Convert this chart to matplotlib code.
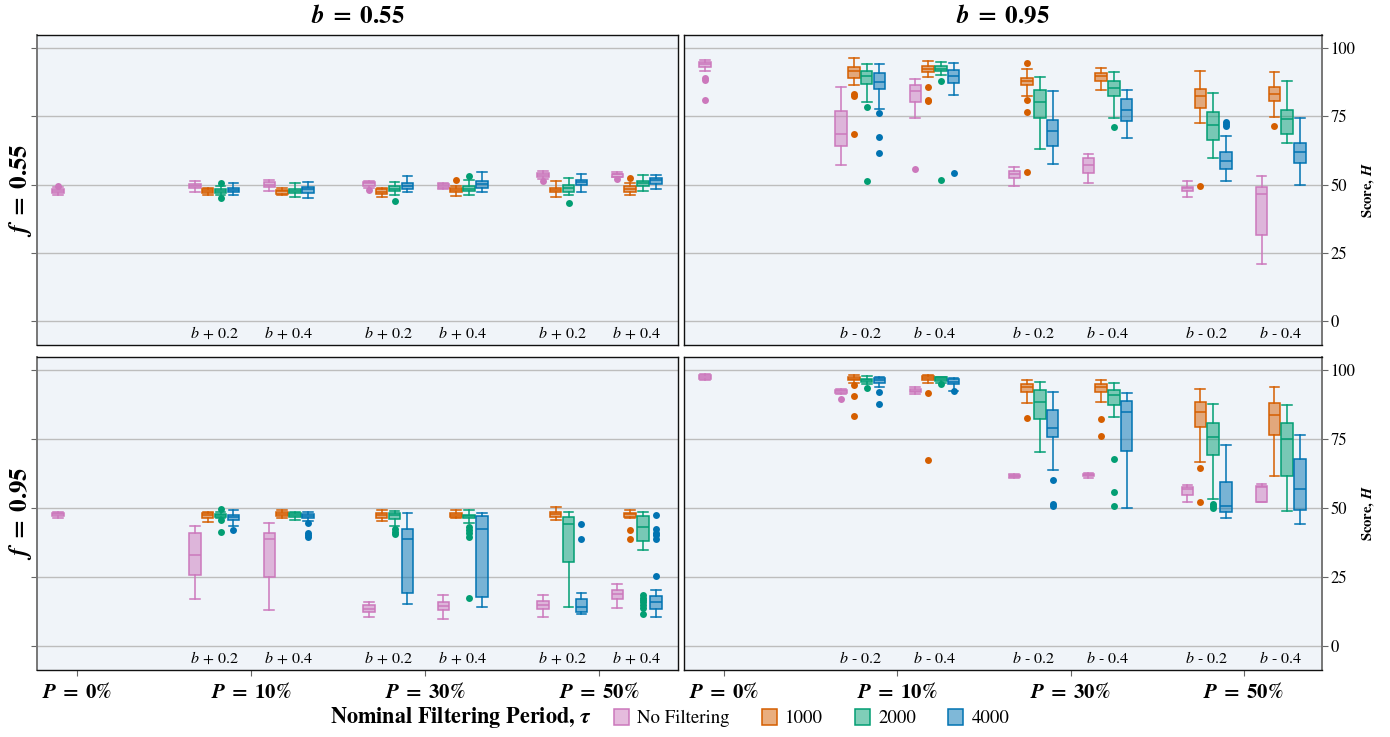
import matplotlib
matplotlib.use('Agg')
import matplotlib.pyplot as plt
from matplotlib.patches import Patch
from matplotlib.colors import to_rgba
import matplotlib.transforms as mtransforms

plt.rcParams['font.family'] = ['STIXGeneral', 'DejaVu Sans']
plt.rcParams['mathtext.fontset'] = 'stix'

# ---------------- data ----------------
hue_labels = ["No Filtering", "1000", "2000", "4000"]
hue_colors = ["#cc78bc", "#d55e00", "#029e73", "#0173b2"]
p_labels = [r"$\mathbfit{P}\;\mathbf{=}\;\mathbf{0\%}$", r"$\mathbfit{P}\;\mathbf{=}\;\mathbf{10\%}$",
            r"$\mathbfit{P}\;\mathbf{=}\;\mathbf{30\%}$", r"$\mathbfit{P}\;\mathbf{=}\;\mathbf{50\%}$"]
sub_labels_plus = [r"$b\,+\,0.2$", r"$b\,+\,0.4$"]
sub_labels_minus = [r"$b$ - 0.2", r"$b$ - 0.4"]
col_titles = [r"$\mathbfit{b}\;\mathbf{=}\;\mathbf{0.55}$", r"$\mathbfit{b}\;\mathbf{=}\;\mathbf{0.95}$"]
row_titles = [r"$\mathbfit{f}\;\mathbf{=}\;\mathbf{0.55}$", r"$\mathbfit{f}\;\mathbf{=}\;\mathbf{0.95}$"]

# box stats: (whislo, q1, med, q3, whishi)
# No Filtering order: P0, P10(+/-0.2), P10(+/-0.4), P30(0.2), P30(0.4), P50(0.2), P50(0.4)
# Filtered order:     P10(0.2), P10(0.4), P30(0.2), P30(0.4), P50(0.2), P50(0.4)

# ---- f=0.55, b=0.55 (top-left)
TL_nofilt = [(46.3, 47.0, 47.6, 48.2, 49.0), (47.3, 48.7, 49.5, 50.2, 51.2), (47.8, 49.0, 50.0, 50.9, 51.7),
             (48.9, 49.5, 50.4, 50.9, 51.3), (48.2, 48.8, 49.5, 50.2, 50.7), (52.2, 52.7, 53.5, 54.1, 54.9),
             (52.6, 52.9, 53.7, 54.0, 54.5)]
TL_nofilt_fl = [[49.5], [], [], [48.0], [], [51.3], [52.0]]
TL_1000 = [(46.0, 46.8, 47.6, 48.3, 48.8), (46.0, 46.6, 47.6, 48.0, 48.8), (45.5, 46.7, 47.4, 48.3, 48.8),
           (45.7, 47.2, 48.0, 48.7, 49.5), (45.4, 47.1, 47.9, 48.8, 51.2), (46.0, 47.4, 48.4, 49.3, 50.5)]
TL_1000_fl = [[], [], [], [51.8], [], [52.3]]
TL_2000 = [(46.1, 47.0, 47.8, 48.5, 49.3), (45.6, 47.0, 47.8, 48.5, 50.6), (46.2, 47.6, 48.5, 49.3, 51.0),
           (46.0, 47.7, 48.5, 49.5, 51.7), (46.0, 47.3, 48.7, 50.0, 52.4), (47.6, 49.4, 50.4, 51.2, 53.5)]
TL_2000_fl = [[50.5, 45.2], [], [43.8], [53.0], [43.2], []]
TL_4000 = [(46.2, 47.1, 48.0, 48.8, 50.5), (45.1, 47.0, 48.2, 49.1, 51.0), (47.2, 48.3, 49.4, 50.7, 53.0),
           (47.2, 48.9, 50.1, 51.3, 54.6), (47.4, 50.0, 51.1, 51.7, 53.9), (48.4, 50.2, 51.5, 52.3, 53.5)]
TL_4000_fl = [[], [], [], [], [], []]

# ---- f=0.55, b=0.95 (top-right)
TR_nofilt = [(91.6, 93.1, 94.0, 95.0, 95.6), (57.3, 64.3, 68.5, 77.1, 85.9), (74.3, 80.4, 84.1, 86.4, 88.7),
             (49.6, 52.3, 54.0, 55.0, 56.4), (50.4, 54.3, 57.0, 59.6, 61.3), (45.5, 47.5, 48.6, 49.2, 51.4),
             (20.7, 31.6, 46.4, 49.2, 53.2)]
TR_nofilt_fl = [[89.0, 88.4, 81.0], [], [55.8], [], [], [], []]
TR_1000 = [(86.4, 89.0, 91.5, 92.9, 96.2), (89.5, 91.4, 92.5, 93.4, 95.1), (82.4, 86.3, 87.8, 89.0, 92.4),
           (84.6, 87.9, 89.7, 90.8, 92.8), (72.5, 78.0, 82.5, 85.0, 91.7), (74.8, 80.5, 83.1, 85.9, 91.3)]
TR_1000_fl = [[83.2, 82.6, 68.7], [85.6, 81.0, 80.6], [94.4, 81.0, 76.6, 54.5], [], [49.3], [71.4]]
TR_2000 = [(80.4, 87.0, 89.7, 91.5, 94.0), (90.3, 91.6, 92.5, 93.4, 95.0), (63.0, 74.3, 80.2, 84.7, 89.4),
           (74.4, 82.4, 85.3, 88.1, 91.4), (59.9, 66.5, 71.9, 76.5, 83.5), (65.1, 68.4, 73.9, 77.2, 87.8)]
TR_2000_fl = [[78.5, 51.2], [88.1, 51.5], [], [71.0], [], []]
TR_4000 = [(77.5, 84.9, 87.5, 90.7, 94.1), (82.9, 87.3, 89.8, 91.9, 94.5), (57.4, 64.0, 69.8, 73.6, 84.1),
           (67.1, 73.4, 77.2, 81.2, 84.8), (51.4, 55.8, 58.5, 62.1, 67.8), (50.0, 58.0, 61.8, 65.1, 74.3)]
TR_4000_fl = [[76.3, 67.6, 61.4], [54.3], [], [], [72.8, 72.1, 71.4], []]

# ---- f=0.95, b=0.55 (bottom-left)
BL_nofilt = [(46.3, 47.0, 47.7, 48.2, 48.7), (17.1, 25.7, 33.0, 40.8, 43.3), (12.9, 25.1, 38.9, 40.8, 44.7),
             (10.6, 12.2, 13.5, 14.7, 15.8), (9.8, 13.0, 14.3, 15.8, 18.4), (10.6, 13.2, 14.7, 16.2, 18.4),
             (13.6, 16.8, 18.7, 20.1, 22.3)]
BL_nofilt_fl = [[], [], [], [], [], [], []]
BL_1000 = [(45.0, 46.3, 47.5, 48.1, 48.4), (46.5, 47.2, 47.9, 48.5, 49.2), (45.3, 46.4, 47.5, 48.2, 49.2),
           (46.3, 46.9, 47.6, 48.2, 49.2), (45.7, 46.8, 47.7, 48.6, 50.3), (46.3, 46.9, 47.7, 48.3, 49.1)]
BL_1000_fl = [[], [], [], [], [], [42.0, 38.6]]
BL_2000 = [(46.3, 46.8, 47.4, 47.9, 48.7), (45.5, 46.6, 47.6, 48.2, 48.7), (43.3, 46.0, 47.6, 48.1, 49.0),
           (44.7, 46.3, 47.1, 47.6, 49.2), (14.0, 30.4, 44.1, 46.9, 48.7), (34.8, 38.2, 43.0, 47.1, 48.7)]
BL_2000_fl = [[49.5, 45.6, 41.2], [], [42.3, 41.4, 40.6], [43.2, 42.1, 41.1, 39.4, 17.5], [],
              [18.4, 17.5, 16.6, 15.7, 14.7, 13.6, 11.5]]
BL_4000 = [(43.3, 45.5, 46.9, 47.6, 49.1), (45.4, 46.3, 47.2, 48.0, 48.7), (15.1, 19.2, 38.8, 42.5, 48.3),
           (14.1, 17.6, 42.2, 47.0, 48.1), (11.4, 12.4, 14.2, 16.8, 19.0), (10.3, 13.5, 15.7, 18.0, 20.1)]
BL_4000_fl = [[41.9], [44.4, 40.9, 40.1, 39.4], [], [], [44.3, 38.7], [47.5, 42.2, 41.1, 40.1, 38.9, 25.3]]

# ---- f=0.95, b=0.95 (bottom-right)
BR_nofilt = [(96.6, 96.9, 97.7, 98.2, 98.7), (91.3, 91.7, 92.4, 92.9, 93.1), (91.5, 92.0, 92.5, 93.3, 93.8),
             (60.9, 61.3, 61.7, 62.0, 62.3), (61.0, 61.6, 62.1, 62.4, 62.8), (52.3, 54.7, 57.0, 57.7, 58.4),
             (52.2, 52.3, 57.6, 58.0, 58.8)]
BR_nofilt_fl = [[], [89.7], [], [], [], [], []]
BR_1000 = [(95.5, 96.3, 96.8, 97.4, 98.3), (95.2, 96.4, 97.2, 97.9, 98.3), (88.1, 92.2, 93.8, 95.0, 96.5),
           (88.4, 92.2, 94.0, 95.0, 96.5), (66.6, 79.4, 84.8, 88.5, 93.1), (61.7, 76.4, 83.7, 88.2, 94.0)]
BR_1000_fl = [[94.7, 90.6, 83.5], [91.9, 67.3], [82.6], [82.4, 76.1], [64.6, 52.1], []]
BR_2000 = [(95.1, 95.7, 96.5, 96.9, 97.9), (95.5, 96.2, 96.9, 97.4, 97.7), (70.4, 82.3, 88.5, 93.0, 95.7),
           (83.2, 87.5, 91.0, 92.9, 95.2), (53.4, 69.4, 75.9, 80.8, 87.8), (49.0, 61.7, 75.2, 80.8, 87.4)]
BR_2000_fl = [[93.6], [94.9], [], [67.9, 55.9, 50.9], [51.3, 50.8, 50.1], []]
BR_4000 = [(93.8, 95.5, 96.5, 97.3, 97.7), (92.4, 95.0, 95.9, 96.7, 97.3), (63.8, 75.6, 78.9, 85.4, 92.0),
           (50.0, 70.6, 84.7, 88.7, 91.7), (46.3, 48.6, 50.6, 59.4, 72.9), (44.3, 49.1, 56.9, 67.7, 76.4)]
BR_4000_fl = [[92.2, 87.9], [92.4], [60.3, 51.5, 50.8], [], [], []]

panels = {
    (0, 0): ([TL_nofilt, TL_1000, TL_2000, TL_4000], [TL_nofilt_fl, TL_1000_fl, TL_2000_fl, TL_4000_fl]),
    (0, 1): ([TR_nofilt, TR_1000, TR_2000, TR_4000], [TR_nofilt_fl, TR_1000_fl, TR_2000_fl, TR_4000_fl]),
    (1, 0): ([BL_nofilt, BL_1000, BL_2000, BL_4000], [BL_nofilt_fl, BL_1000_fl, BL_2000_fl, BL_4000_fl]),
    (1, 1): ([BR_nofilt, BR_1000, BR_2000, BR_4000], [BR_nofilt_fl, BR_1000_fl, BR_2000_fl, BR_4000_fl]),
}

# ---------------- layout ----------------
SUB_OFF = 0.214      # half distance between the two sub-groups of a P group
HUE_STEP = 0.0738    # distance between hue boxes
BOX_W = 0.066
CAP_W = 0.056
BG = "#f0f4f9"


def positions_for(hue):
    pos = []
    if hue == 0:
        pos.append(0 + (0 - 1.5) * HUE_STEP)
    for g in (1, 2, 3):
        for s in (-1, 1):
            pos.append(g + s * SUB_OFF + (hue - 1.5) * HUE_STEP)
    return pos


fig = plt.figure(figsize=(13.9, 7.37), dpi=100)
W, H = 1390, 737
col_x = [(37, 678), (684, 1322)]
row_y = [(35, 345), (357, 670)]

axes = {}
for r in range(2):
    for c in range(2):
        x0, x1 = col_x[c]
        y0, y1 = row_y[r]
        ax = fig.add_axes([x0 / W, 1 - y1 / H, (x1 - x0) / W, (y1 - y0) / H])
        axes[(r, c)] = ax
        ax.set_facecolor(BG)
        ax.set_xlim(-0.232, 3.452)
        ax.set_ylim(-8.8, 104.8)
        ax.set_yticks([0, 25, 50, 75, 100])
        ax.yaxis.grid(True, color="#bdbdbd", lw=1.0)
        ax.set_axisbelow(True)
        for sp in ax.spines.values():
            sp.set_color("#111111")
            sp.set_linewidth(1.0)
        if c == 0:
            ax.spines['left'].set_color("#777777")
            ax.spines['left'].set_linewidth(1.4)
        else:
            ax.spines['right'].set_color("#777777")
            ax.spines['right'].set_linewidth(1.4)

        stats_list, fl_list = panels[(r, c)]
        for h in range(4):
            col = hue_colors[h]
            bstats = []
            for st, fl in zip(stats_list[h], fl_list[h]):
                bstats.append(dict(whislo=st[0], q1=st[1], med=st[2], q3=st[3], whishi=st[4], fliers=fl))
            pos = positions_for(h)
            ax.bxp(bstats, positions=pos, widths=BOX_W, capwidths=CAP_W, patch_artist=True,
                   showfliers=True, manage_ticks=False,
                   boxprops=dict(facecolor=to_rgba(col, 0.5), edgecolor=col, linewidth=1.1),
                   medianprops=dict(color=col, linewidth=1.1),
                   whiskerprops=dict(color=col, linewidth=1.1),
                   capprops=dict(color=col, linewidth=1.1),
                   flierprops=dict(marker='o', markerfacecolor=col, markeredgecolor='none',
                                   markersize=5, linestyle='none'))

        # sub-group labels inside axes
        trans = mtransforms.blended_transform_factory(ax.transData, ax.transAxes)
        subs = sub_labels_plus if c == 0 else sub_labels_minus
        for g in (1, 2, 3):
            for k, s in enumerate((-1, 1)):
                ax.text(g + s * SUB_OFF, 0.012, subs[k], transform=trans, ha='center', va='bottom',
                        fontsize=11.5)

        # y axis
        if c == 0:
            ax.tick_params(axis='y', left=True, right=False, labelleft=False, labelright=False,
                           length=4, direction='out', color="#666666")
        else:
            ax.yaxis.tick_right()
            ax.tick_params(axis='y', left=False, right=True, labelleft=False, labelright=True,
                           length=4, direction='out', labelsize=12, pad=2, color="#666666")
            ax.yaxis.set_label_position('right')
            ax.set_ylabel(r"Score, $\mathbfit{H}$", fontsize=10.5, fontweight='bold', labelpad=4)

        # x axis
        ax.set_xticks([0, 1, 2, 3])
        if r == 1:
            ax.set_xticklabels(p_labels, fontsize=15)
            ax.tick_params(axis='x', length=4, direction='out', pad=5, color="#666666")
        else:
            ax.set_xticklabels([])
            ax.tick_params(axis='x', length=0)

# column / row titles
for c in range(2):
    x0, x1 = col_x[c]
    fig.text((x0 + x1) / 2 / W, 1 - 17 / H, col_titles[c], ha='center', va='center', fontsize=18)
for r in range(2):
    y0, y1 = row_y[r]
    fig.text(20 / W, 1 - (y0 + y1) / 2 / H, row_titles[r], ha='center', va='center', rotation=90,
             fontsize=18)

# legend
fig.text(592 / W, 1 - 718 / H, r"Nominal Filtering Period, $\mathbfit{\tau}$", ha='right', va='center',
         fontsize=16, fontweight='bold')
handles = [Patch(facecolor=to_rgba(col, 0.5), edgecolor=col, linewidth=1.1) for col in hue_colors]
fig.legend(handles, hue_labels, loc='center left', bbox_to_anchor=(614 / W, 1 - 718 / H), ncol=4,
           frameon=False, fontsize=13.5, handlelength=0.8, handleheight=1.0, handletextpad=0.45,
           columnspacing=1.7, borderaxespad=0, borderpad=0)

fig.savefig("out.png", dpi=100)
